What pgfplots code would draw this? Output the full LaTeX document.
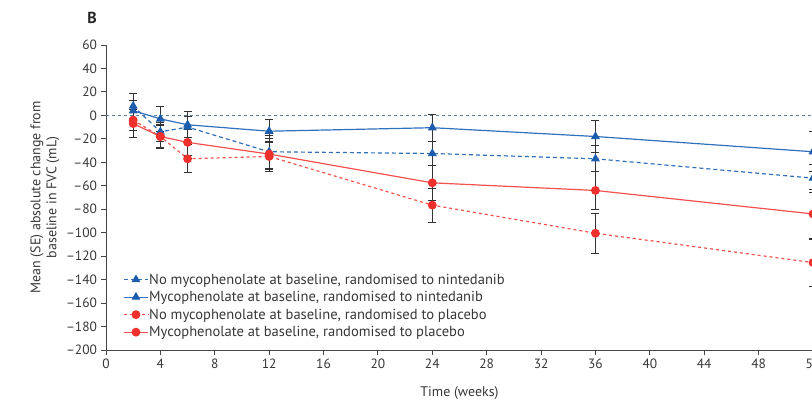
\documentclass[border=0pt]{standalone}
\usepackage{pgfplots}
\pgfplotsset{compat=1.18}
\usepackage{fontspec}
\setmainfont{PT Sans}

\definecolor{ntdblue}{RGB}{28,92,172}
\definecolor{ntdblueline}{RGB}{48,112,188}
\definecolor{plcred}{RGB}{240,48,44}
\definecolor{plcredline}{RGB}{244,80,76}
\definecolor{refline}{RGB}{90,130,150}
\definecolor{axgray}{RGB}{70,70,70}
\definecolor{txtgray}{RGB}{55,55,55}

\begin{document}
\begin{tikzpicture}[font=\fontsize{14}{16}\selectfont]
\begin{axis}[
  name=ax,
  scale only axis,
  width=707bp, height=305bp,
  xmin=0, xmax=52, ymin=-200, ymax=60,
  axis lines*=left,
  axis line style={axgray, line width=0.9pt},
  tick style={axgray, line width=0.9pt},
  tick align=outside,
  major tick length=4.5bp,
  xtick={0,4,...,52},
  ytick={-200,-180,...,60},
  yticklabels={--200,--180,--160,--140,--120,--100,--80,--60,--40,--20,0,20,40,60},
  /pgf/number format/assume math mode=true,
  ticklabel style={text=txtgray, font=\fontsize{13.5}{15}\selectfont},
  xticklabel style={yshift=-1bp},
  yticklabel style={xshift=-1bp},
  xlabel={Time (weeks)},
  xlabel style={text=txtgray, at={(axis description cs:0.5,0)}, anchor=center, yshift=-43bp},
  ylabel={Mean (SE) absolute change from\\baseline in FVC (mL)},
  ylabel style={text=txtgray, align=center, at={(axis description cs:0,0.5)}, anchor=center, yshift=61bp},
  clip=false,
  legend style={draw=none, fill=none, at={(axis description cs:0.02,0.03)}, anchor=south west,
    font=\fontsize{14.6}{15}\selectfont, text=txtgray, row sep=4.5bp,
    nodes={inner sep=0.6bp}},
  legend cell align=left,
  legend image code/.code={
    \draw[#1, mark=none] (0cm,0cm) -- (0.85cm,0cm);
    \draw[#1, solid] plot coordinates {(0.425cm,0cm)};
  },
  error bars/y dir=both,
  error bars/y explicit,
  error bars/error mark=-,
  error bars/error bar style={black!80, line width=1.1pt, solid},
  error bars/error mark options={black!80, line width=1.1pt, solid, rotate=90, mark size=4bp},
]
% zero reference line
\addplot[refline, line width=1pt, dash pattern=on 3bp off 3bp, forget plot] coordinates {(0,0) (52,0)};

% No mycophenolate at baseline, nintedanib
\addplot[ntdblueline, line width=1.2pt, dash pattern=on 4bp off 3bp,
  mark=triangle*, mark size=4bp, mark options={ntdblue, solid}]
  coordinates {(2,8) +- (0,11) (4,-14) +- (0,8) (6,-10) +- (0,9) (12,-31) +- (0,14)
               (24,-32.5) +- (0,10) (36,-37) +- (0,11) (52,-53.5) +- (0,12)};
\addlegendentry{No mycophenolate at baseline, randomised to nintedanib}

% Mycophenolate at baseline, nintedanib
\addplot[ntdblueline, line width=1.2pt, solid,
  mark=triangle*, mark size=4bp, mark options={ntdblue, solid}]
  coordinates {(2,4) +- (0,9) (4,-3) +- (0,10.5) (6,-8) +- (0,11) (12,-13.5) +- (0,10)
               (24,-10.5) +- (0,11.5) (36,-18) +- (0,14) (52,-31) +- (0,17)};
\addlegendentry{Mycophenolate at baseline, randomised to nintedanib}

% No mycophenolate at baseline, placebo
\addplot[plcredline, line width=1.2pt, dash pattern=on 3bp off 3bp,
  mark=*, mark size=3.8bp, mark options={plcred, solid}]
  coordinates {(2,-4) +- (0,9) (4,-18) +- (0,9) (6,-37) +- (0,12) (12,-35) +- (0,12.5)
               (24,-76.5) +- (0,14.5) (36,-100.5) +- (0,17) (52,-125.5) +- (0,20)};
\addlegendentry{No mycophenolate at baseline, randomised to placebo}

% Mycophenolate at baseline, placebo
\addplot[plcredline, line width=1.2pt, solid,
  mark=*, mark size=3.8bp, mark options={plcred, solid}]
  coordinates {(2,-7) +- (0,12) (4,-18) +- (0,10) (6,-23) +- (0,11) (12,-33) +- (0,13)
               (24,-57.5) +- (0,15) (36,-64) +- (0,16) (52,-84) +- (0,21)};
\addlegendentry{Mycophenolate at baseline, randomised to placebo}
\end{axis}
\node[font=\fontsize{16}{17}\selectfont\bfseries, text=black!85] at ([xshift=-14bp, yshift=27bp]ax.north west) {B};
\pgfresetboundingbox
\path[use as bounding box] ([xshift=-106bp, yshift=-52bp]ax.south west) rectangle ([xshift=-1bp, yshift=45bp]ax.north east);
\end{tikzpicture}
\end{document}
